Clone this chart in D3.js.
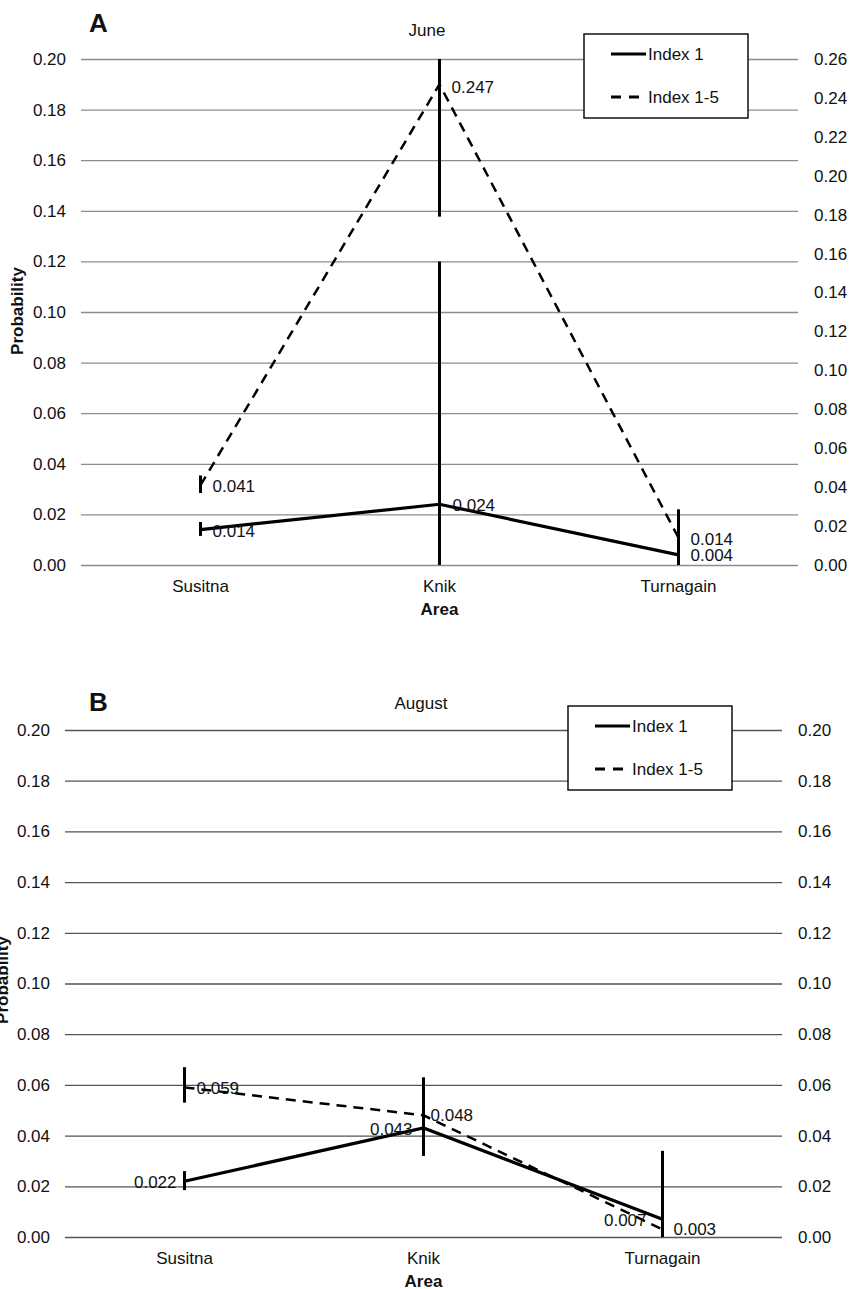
<html>
<head>
<script src="https://d3js.org/d3.v7.min.js"></script>
<style>
  body { margin: 0; background: #fff; }
  svg text { font-family: "Liberation Sans", Arial, sans-serif; fill: #111; }
</style>
</head>
<body>
<svg id="svg" width="851" height="1289"></svg>
<script>
// categories and tick values
var areas = ["Susitna", "Knik", "Turnagain"];
var leftTicksA = [0, 0.02, 0.04, 0.06, 0.08, 0.10, 0.12, 0.14, 0.16, 0.18, 0.20];
var rightTicksA = [0, 0.02, 0.04, 0.06, 0.08, 0.10, 0.12, 0.14, 0.16, 0.18, 0.20, 0.22, 0.24, 0.26];
var ticksB = [0, 0.02, 0.04, 0.06, 0.08, 0.10, 0.12, 0.14, 0.16, 0.18, 0.20];

// June (A) - Index 1 on left axis, Index 1-5 on right axis
var juneIdx1 = [0.014, 0.024, 0.004];
var juneIdx1Lo = [0.0115, 0, 0];
var juneIdx1Hi = [0.017, 0.12, 0.022];
var juneIdx15 = [0.041, 0.247, 0.014];
var juneIdx15Lo = [0.037, 0.179, 0.014];
var juneIdx15Hi = [0.046, 0.26, 0.014];

// August (B)
var augIdx1 = [0.022, 0.043, 0.007];
var augIdx1Lo = [0.0185, 0.032, 0];
var augIdx1Hi = [0.026, 0.054, 0.034];
var augIdx15 = [0.059, 0.048, 0.003];
var augIdx15Lo = [0.053, 0.040, 0.003];
var augIdx15Hi = [0.067, 0.063, 0.003];

var svg = d3.select("#svg");
var fmt = d3.format(".2f");
var fmt3 = d3.format(".3f");

function drawPanel(p) {
    var g = svg.append("g");
    var x = d3.scaleBand().domain(areas).range([p.x0, p.x1]);
    var yL = d3.scaleLinear().domain([0, 0.20]).range([p.yBottom, p.yTop]);
    var yR = d3.scaleLinear().domain([0, p.rightMax]).range([p.yBottom, p.yTop]);
    var cx = function(i) { return x(areas[i]) + x.bandwidth() / 2; };

    // gridlines + left labels
    var la = g.append("g").attr("transform", "translate(" + p.x0 + ",0)")
        .call(d3.axisLeft(yL).tickValues(p.leftTicks).tickFormat(fmt)
            .tickSizeInner(-(p.x1 - p.x0)).tickSizeOuter(0).tickPadding(15));
    la.select(".domain").remove();
    la.selectAll("line").attr("stroke", p.gridColor).attr("stroke-width", 1.3);
    la.selectAll("text").attr("font-size", 17).attr("fill", "#111");

    // right labels
    var ra = g.append("g").attr("transform", "translate(" + p.x1 + ",0)")
        .call(d3.axisRight(yR).tickValues(p.rightTicks).tickFormat(fmt)
            .tickSize(0).tickPadding(16));
    ra.select(".domain").remove();
    ra.selectAll("text").attr("font-size", 17).attr("fill", "#111");

    // category labels
    g.selectAll(".cat").data(areas).enter().append("text")
        .attr("x", function(d) { return x(d) + x.bandwidth() / 2; })
        .attr("y", p.yBottom + 27)
        .attr("text-anchor", "middle").attr("font-size", 17).text(function(d) { return d; });

    g.append("text").attr("x", (p.x0 + p.x1) / 2).attr("y", p.yBottom + 50)
        .attr("text-anchor", "middle").attr("font-size", 17).attr("font-weight", "bold").text("Area");
    g.append("text").attr("transform", "translate(" + p.probX + "," + p.probY + ") rotate(-90)")
        .attr("text-anchor", "middle").attr("font-size", 17).attr("font-weight", "bold").text("Probability");

    g.append("text").attr("x", 89).attr("y", p.letterY).attr("font-size", 26)
        .attr("font-weight", "bold").text(p.letter);
    g.append("text").attr("x", p.titleX).attr("y", p.titleY).attr("text-anchor", "middle")
        .attr("font-size", 17).text(p.title);

    // legend
    var lg = g.append("g");
    lg.append("rect").attr("x", p.legX).attr("y", p.legY).attr("width", 164).attr("height", 84)
        .attr("fill", "#fff").attr("stroke", "#111").attr("stroke-width", 1.5);
    lg.append("line").attr("x1", p.legX + 27).attr("x2", p.legX + 62)
        .attr("y1", p.legY + 20).attr("y2", p.legY + 20).attr("stroke", "#000").attr("stroke-width", 3);
    lg.append("text").attr("x", p.legX + 64).attr("y", p.legY + 26).attr("font-size", 17).text("Index 1");
    lg.append("line").attr("x1", p.legX + 27).attr("x2", p.legX + 55)
        .attr("y1", p.legY + 63).attr("y2", p.legY + 63).attr("stroke", "#000").attr("stroke-width", 3)
        .attr("stroke-dasharray", "10,8");
    lg.append("text").attr("x", p.legX + 64).attr("y", p.legY + 69).attr("font-size", 17).text("Index 1-5");

    // error bars
    function bars(lo, hi, sc) {
        g.selectAll(null).data(d3.range(areas.length).filter(function(i) { return hi[i] > lo[i]; }))
            .enter().append("line")
            .attr("x1", cx).attr("x2", cx)
            .attr("y1", function(i) { return sc(lo[i]); })
            .attr("y2", function(i) { return sc(hi[i]); })
            .attr("stroke", "#000").attr("stroke-width", 3);
    }
    bars(p.i1Lo, p.i1Hi, yL);
    bars(p.i15Lo, p.i15Hi, p.dashScale === "right" ? yR : yL);

    var yD = p.dashScale === "right" ? yR : yL;
    var lineL = d3.line().x(function(d, i) { return cx(i); }).y(function(d) { return yL(d); });
    var lineD = d3.line().x(function(d, i) { return cx(i); }).y(function(d) { return yD(d); });
    g.append("path").attr("d", lineD(p.i15)).attr("fill", "none").attr("stroke", "#000")
        .attr("stroke-width", 2.5).attr("stroke-dasharray", "10,7");
    g.append("path").attr("d", lineL(p.i1)).attr("fill", "none").attr("stroke", "#000")
        .attr("stroke-width", 3.2);

    // value labels
    function labels(vals, sc, offs) {
        vals.forEach(function(v, i) {
            var o = offs[i];
            g.append("text").attr("x", cx(i) + o[0]).attr("y", sc(v) + o[1])
                .attr("dy", "0.35em").attr("text-anchor", o[0] < 0 ? "end" : "start")
                .attr("font-size", 17).text(fmt3(v));
        });
    }
    labels(p.i1, yL, p.i1Off);
    labels(p.i15, yD, p.i15Off);
}

drawPanel({
    letter: "A", letterY: 32, title: "June", titleX: 427, titleY: 36,
    x0: 81, x1: 798, yTop: 59, yBottom: 565, rightMax: 0.26,
    leftTicks: leftTicksA, rightTicks: rightTicksA, gridColor: "#8c8c8c",
    probX: 23, probY: 311, legX: 584, legY: 34,
    i1: juneIdx1, i1Lo: juneIdx1Lo, i1Hi: juneIdx1Hi,
    i15: juneIdx15, i15Lo: juneIdx15Lo, i15Hi: juneIdx15Hi, dashScale: "right",
    i1Off: [[12, 1], [13, 1], [12, 0]],
    i15Off: [[12, 1], [12, 3], [12, 1]]
});

drawPanel({
    letter: "B", letterY: 711, title: "August", titleX: 421, titleY: 709,
    x0: 65, x1: 782, yTop: 730, yBottom: 1237, rightMax: 0.20,
    leftTicks: ticksB, rightTicks: ticksB, gridColor: "#555",
    probX: 8, probY: 980, legX: 568, legY: 706,
    i1: augIdx1, i1Lo: augIdx1Lo, i1Hi: augIdx1Hi,
    i15: augIdx15, i15Lo: augIdx15Lo, i15Hi: augIdx15Hi, dashScale: "left",
    i1Off: [[-8, 1], [-11, 1], [-16, 1]],
    i15Off: [[12, 1], [7, 0], [11, 0]]
});
</script>
</body>
</html>
